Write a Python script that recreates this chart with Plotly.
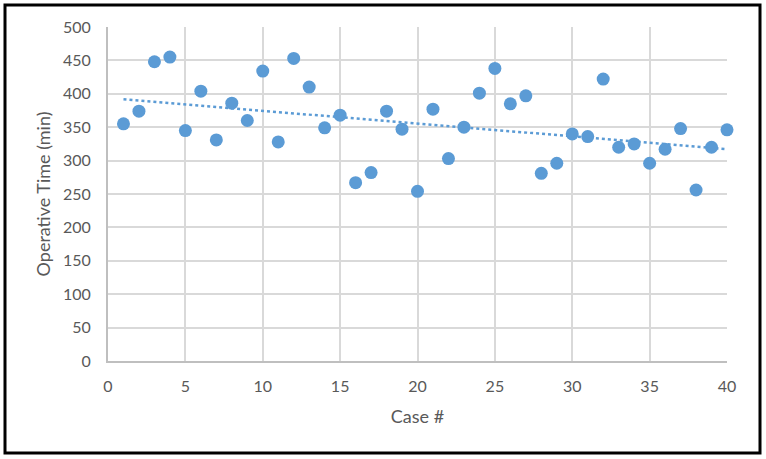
import numpy as np
import plotly.graph_objects as go

case_no = list(range(1, 41))
operative_time = [355, 374, 448, 455, 345, 404, 331, 386, 360, 434,
                  328, 453, 410, 349, 368, 267, 282, 374, 347, 254,
                  377, 303, 350, 401, 438, 385, 397, 281, 296, 340,
                  336, 422, 320, 325, 296, 317, 348, 256, 320, 346]

x_ticks = [0, 5, 10, 15, 20, 25, 30, 35, 40]
y_ticks = [0, 50, 100, 150, 200, 250, 300, 350, 400, 450, 500]

slope, intercept = np.polyfit(case_no, operative_time, 1)
trend_x = [case_no[0], case_no[-1]]
trend_y = [slope * v + intercept for v in trend_x]

blue = "#5b9bd5"
font_family = "Lato, 'Open Sans', sans-serif"

fig = go.Figure()
fig.add_trace(go.Scatter(x=trend_x, y=trend_y, mode="lines",
                         line=dict(color=blue, width=2.5, dash="dot"),
                         showlegend=False, hoverinfo="skip", cliponaxis=False))
fig.add_trace(go.Scatter(x=case_no, y=operative_time, mode="markers",
                         marker=dict(color=blue, size=13),
                         showlegend=False, cliponaxis=False))

W, H = 766, 459
ml, mr, mt, mb = 108, 39, 27, 98
pw, ph = W - ml - mr, H - mt - mb

fig.update_layout(
    width=W, height=H,
    margin=dict(l=ml, r=mr, t=mt, b=mb),
    paper_bgcolor="white", plot_bgcolor="white",
    font=dict(family=font_family, size=15, color="#595959"),
    xaxis=dict(range=[0, 40], tickvals=x_ticks, showgrid=True, gridcolor="#d9d9d9",
               gridwidth=2, zeroline=False, showline=True, linecolor="#bfbfbf", linewidth=2,
               ticks="", ticklabelstandoff=10, tickfont=dict(size=16, color="#595959"),
               title=dict(text="Case #", font=dict(size=18, color="#595959"), standoff=16)),
    yaxis=dict(range=[0, 500], tickvals=y_ticks, showgrid=True, gridcolor="#d9d9d9",
               gridwidth=2, zeroline=False, showline=True, linecolor="#bfbfbf", linewidth=2,
               ticks="", ticklabelstandoff=12, tickfont=dict(size=16, color="#595959"),
               title=dict(text="Operative Time (min)", font=dict(size=18, color="#595959"), standoff=8)),
)

# outer chart border
bx0, bx1, by0, by1 = 5, 760, 453, 5
fig.add_shape(type="rect", xref="paper", yref="paper",
              x0=(bx0 - ml) / pw, x1=(bx1 - ml) / pw,
              y0=(H - mb - by0) / ph, y1=(H - mb - by1) / ph,
              line=dict(color="black", width=3), fillcolor="rgba(0,0,0,0)", layer="above")

fig.write_html("out.html", config={"displayModeBar": False},
               post_script="document.body.style.margin='0';")
